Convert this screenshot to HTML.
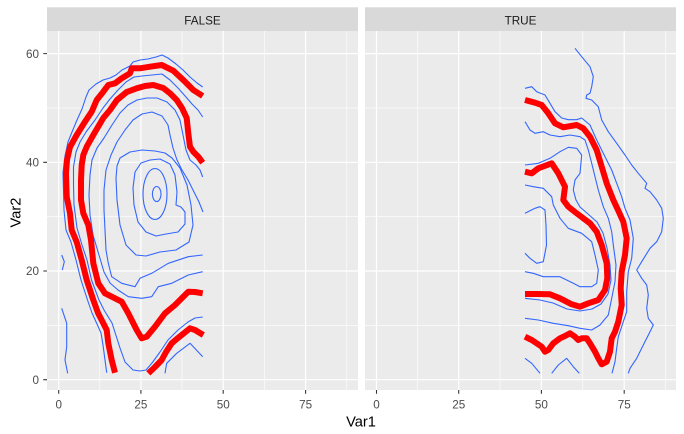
<!DOCTYPE html>
<html><head><meta charset="utf-8"><style>
html,body{margin:0;padding:0;background:#fff;}
svg{display:block;}
text{font-family:"Liberation Sans",Arial,sans-serif;}
</style></head><body>
<svg width="684" height="434" viewBox="0 0 684 434" xmlns="http://www.w3.org/2000/svg">
<rect width="684" height="434" fill="#fff"/>
<!-- strips -->
<rect x="47" y="7.3" width="311" height="23.7" fill="#D9D9D9"/>
<rect x="365" y="7.3" width="311" height="23.7" fill="#D9D9D9"/>
<text x="202.5" y="24.3" font-size="11.7" fill="#1A1A1A" text-anchor="middle">FALSE</text>
<text x="520.5" y="24.3" font-size="11.7" fill="#1A1A1A" text-anchor="middle">TRUE</text>
<!-- panels -->
<rect x="47" y="31" width="311" height="359" fill="#EBEBEB"/>
<rect x="365" y="31" width="311" height="359" fill="#EBEBEB"/>
<g stroke="#fff" stroke-width="0.6" fill="none">
<path d="M47 107.95H358M47 216.65H358M47 325.35H358M365 107.95H676M365 216.65H676M365 325.35H676"/>
<path d="M99.8 31V390M182 31V390M264.4 31V390M346.8 31V390M417.6 31V390M500 31V390M582.8 31V390M665.4 31V390"/>
</g>
<g stroke="#fff" stroke-width="1.2" fill="none">
<path d="M47 53.6H358M47 162.3H358M47 271H358M47 379.7H358M365 53.6H676M365 162.3H676M365 271H676M365 379.7H676"/>
<path d="M58.7 31V390M140.9 31V390M223.2 31V390M305.6 31V390M376.5 31V390M458.7 31V390M541.4 31V390M624.2 31V390"/>
</g>
<!-- ticks -->
<g stroke="#333" stroke-width="1.07">
<path d="M43.3 53.6H47M43.3 162.3H47M43.3 271H47M43.3 379.7H47"/>
<path d="M58.7 390V393.7M140.9 390V393.7M223.2 390V393.7M305.6 390V393.7M376.5 390V393.7M458.7 390V393.7M541.4 390V393.7M624.2 390V393.7"/>
</g>
<g font-size="11.7" fill="#4D4D4D">
<text x="39" y="57.8" text-anchor="end">60</text>
<text x="39" y="166.5" text-anchor="end">40</text>
<text x="39" y="275.2" text-anchor="end">20</text>
<text x="39" y="383.9" text-anchor="end">0</text>
<g text-anchor="middle">
<text x="58.7" y="408.5">0</text>
<text x="140.9" y="408.5">25</text>
<text x="223.2" y="408.5">50</text>
<text x="305.6" y="408.5">75</text>
<text x="376.5" y="408.5">0</text>
<text x="458.7" y="408.5">25</text>
<text x="541.4" y="408.5">50</text>
<text x="624.2" y="408.5">75</text>
</g>
</g>
<text x="361" y="426.5" font-size="14.67" fill="#000" text-anchor="middle">Var1</text>
<text transform="translate(20.6,212.5) rotate(-90)" font-size="14.67" fill="#000" text-anchor="middle">Var2</text>

<!-- LEFT PANEL blue contours -->
<g fill="none" stroke="#3366FF" stroke-width="1.1" stroke-linejoin="round">
<polyline points="202.7,87 197,83 190,77 183,70 176,64 168,58 162,55 156,57 148,59 140,60 133,62 130,66 122,70 116,75 110,78 103,80 96,84 89,90 86,97 82,109 77,120 72,132 68,142 65,156 63,173 63.5,190 64,210 66,230 71,242 76,260 81,280 87.5,300 92,313 97,324 101,333 103,345 105,360 106.7,372.7"/>
<polyline points="165,373.3 166.7,363.3 176.7,353.3 190,343.3 191.7,345 202.7,356.7"/>
<polyline points="61.7,255 64.3,261.7 62.3,270"/>
<polyline points="61.7,308.3 66.7,323.3 66.7,346.7 65,360 67.7,373.3"/>
<polyline points="202.7,117 198,110 192,104 186,97 178,88 170,80 162,74 152,75 142,76 134,77 126,82 118,90 110,99 103,108 95,120 86,132 80,142 76,152 73.5,167 73.5,185 74,205 77,228 82,245 87,260 91.5,280 99,300 104,310 112,323 120,348 125,362 133,370 140,371 146,370 152,363 160,352 168,340 178,330 188,322 195,318 202.7,317"/>
<polyline points="202.7,177 200,170 196,165 190,160 186,150 183,135 180,120 175,110 167,102 157,98 147,98 137,100 128,105 120,113 112,125 104,138 97,148 92,160 90,175 89,195 90,215 93,235 99,255 104,272 110,283 118,290 128.3,296.7 141.7,298.3 151.7,296.7 158.3,286.7 171.7,283.3 188.3,275 202.7,271.7"/>
<polyline points="203,212 199,202 194,192 188,180 182,170 177,160 173,148 170,135 168,125 162,116 152,112 142,114 133,120 125,130 117,142 111,155 106,170 104,190 104,210 105,230 106,250 108.3,263.3 111.7,276.7 121.7,283.3 135,286.7 140,278.3 151.7,273.3 168.3,263.3 188.3,256.7 202.7,255"/>
<polygon points="120,158 130,152 142,150 155,151 165,153 172,158 180,168 187,185 191,205 193,225 189,242 176,250 160,252 146,256 136,255 126,245 120,225 117,200 116,178 117,166"/>
<polygon points="150,160 160,159 170,164 175,175 177,192 176,205 181,207 185,212 185,224 178,232 166,234 156,236 146,232 138,222 134,205 133,188 135,172 141,163"/>
<ellipse cx="155" cy="194" rx="12" ry="25.5"/>
<ellipse cx="156.7" cy="194" rx="4.3" ry="7.5"/>
</g>
<!-- LEFT PANEL red contours -->
<g fill="none" stroke="#FF0000" stroke-width="6" stroke-linejoin="round" stroke-linecap="butt">
<polyline points="202.7,96 193.3,90 183.3,80 173.3,70.7 161.7,65 150,66.7 140,68.3 131.7,68.3 130,73.3 121.7,78.3 115,83.3 108.3,85 103.3,91.7 96.7,100 91.7,111.7 85,121.7 76.7,135 70,147 67,160 66,173.3 66.7,196.7 70,213.3 71.7,230 76.7,242 81.7,260 86.7,280 93.3,300 98,313 103.3,323.3 106.7,330 108.3,343.3 111.7,360 115,372.7"/>
<polyline points="202.7,162.7 198.3,156.7 193.3,151.7 190,146.7 188.3,133.3 186.7,118 182,108 176.7,100 170,93.3 163.3,88 153.3,85 145,86 136.7,88.3 126.7,92 117,100 110,110 103.3,118 98,127 93.3,135 86.7,146.7 83.3,155 81.7,165 81,180 81,200 83.3,213.3 88.3,225 91,240 93.3,263.3 98.3,283.3 105,293.3 115,298.3 121.7,301.7 128.3,313.3 136.7,330 141.7,338.3 146.7,336.7 155,326.7 165,313.3 175,305 182,298 188.3,291.7 195,292 202.7,293.3"/>
<polyline points="148.3,373.3 155,367 161.7,360 166,352 171.7,343.3 176.7,339 181.7,335 190,328.3 195,330 203.3,335"/>
</g>

<!-- RIGHT PANEL blue contours -->
<g fill="none" stroke="#3366FF" stroke-width="1.1" stroke-linejoin="round">
<polyline points="575,48.3 581.7,56.7 590,66.7 593.3,76.7 591.7,86.7 590,93.3 586.7,95 586,98.3 591.7,100 598.3,106.7 601.7,120 608.3,131.7 616.7,143.3 625,155 631.7,165 638.3,173.3 646.7,183.3 645,188.3 650,191.7 656.7,200 661.7,208.3 663.3,218.3 661.7,231.7 656.7,241.7 650,248.3 641.7,261.7 636.7,270 641.7,278.3 646.7,285 648.3,295 646.7,308.3 648.3,318.3 653.3,325 650,331.7 643.3,345 636.7,358.3 630,368.3 628.3,373.3"/>
<polyline points="525,88.3 531.7,86.7 536.7,91.7 545,95 550,103.3 555,111.7 561.7,118 568.3,119.7 576.7,119.7 581.7,118 590,125 596.7,140 605,156.7 611.7,170 616.7,183.3 621.7,196.7 625,208.3 630,220 633.3,238.3 631.7,258.3 628.3,271.7 626.7,291.7 626.7,311.7 623.3,321.7 618.3,336.7 616.7,348.3 615,361.7 612,373.3"/>
<polyline points="525,358.3 531.7,363.3 540,373.3"/>
<polyline points="551.7,373.3 558.3,365 566.7,358.3 573.3,366.7 579.3,373.3"/>
<polyline points="525,121.7 530,130 535,133.3 543.3,131.7 550,135 560,136.7 570,135 580,136.7 585,140 588.3,150 591.7,163.3 595,176.7 598.3,190 603.3,206.7 608.3,218.3 611.7,231.7 613.3,245 616,265 615,281.7 611.7,298.3 608.3,315 600,325 591.7,330 580,328.3 568.3,325.7 553.3,323.3 538.3,320 525,318.3"/>
<polyline points="525,165 538.3,163.3 550,158.3 560,151.7 568.3,147.3 576.7,148.3 581.7,155 580,173.3 575,180 573.3,190 576,200 580,207 588,214 597,222 603,233 607,248 610,265 611,280 608,294 601,304 592,309 580,311 567,309 553,303 540,300 525,298.3"/>
<polyline points="525,185 533.3,186.7 543.3,188.3 551.7,196.7 553.3,205 560,218.3 568.3,228.3 581.7,233.3 591.7,241.7 595,255 598.3,270 596.7,283.3 591.7,286.7 580,286.7 573.3,283.3 560,276.7 543.3,276.7 533.3,273.3 525,271.7"/>
<polyline points="525,213.3 535,208.3 540,206.7 545,210 546,225 546.5,245 543.3,261.7 536.7,263.3 530,258.3 525,253.3"/>
</g>
<!-- RIGHT PANEL red contours -->
<g fill="none" stroke="#FF0000" stroke-width="6" stroke-linejoin="round" stroke-linecap="butt">
<polyline points="525,100 535,102.7 541.7,105 548.3,113.3 555,123.3 563.3,127.3 576.7,125 583.3,128.3 590,136.7 596.7,150 601.7,166.7 606.7,183.3 613.3,200 618,210 623.3,221.7 626.7,238.3 625,255 621.7,271.7 620.7,288.3 621.7,305 618.3,321.7 615,331.7 611.7,338.3 610,351.7 606.7,361.7 601.7,364.3 598.3,358.3 595,351.7 590,343.3 586.7,338.3 581.7,338.3 578.3,340 575,336.7 570,333.3 565,336 560,338.3 553.3,343.3 548.3,350 545,351.7 541.7,346.7 536.7,343.3 531.7,340 525,336.7"/>
<polyline points="525,171.7 531.7,173.3 538.3,168.3 551.7,163.3 558.3,173.3 565,186.7 563.3,200 568.3,206.7 576.7,213.3 590,223.3 596.7,231.7 601.7,245 606.7,263.3 607.3,278.3 605,290 598.3,300 588.3,303.3 580,306.7 571.7,304.3 560,298.3 550,294.3 536.7,294 525,294"/>
</g>
</svg>
</body></html>
